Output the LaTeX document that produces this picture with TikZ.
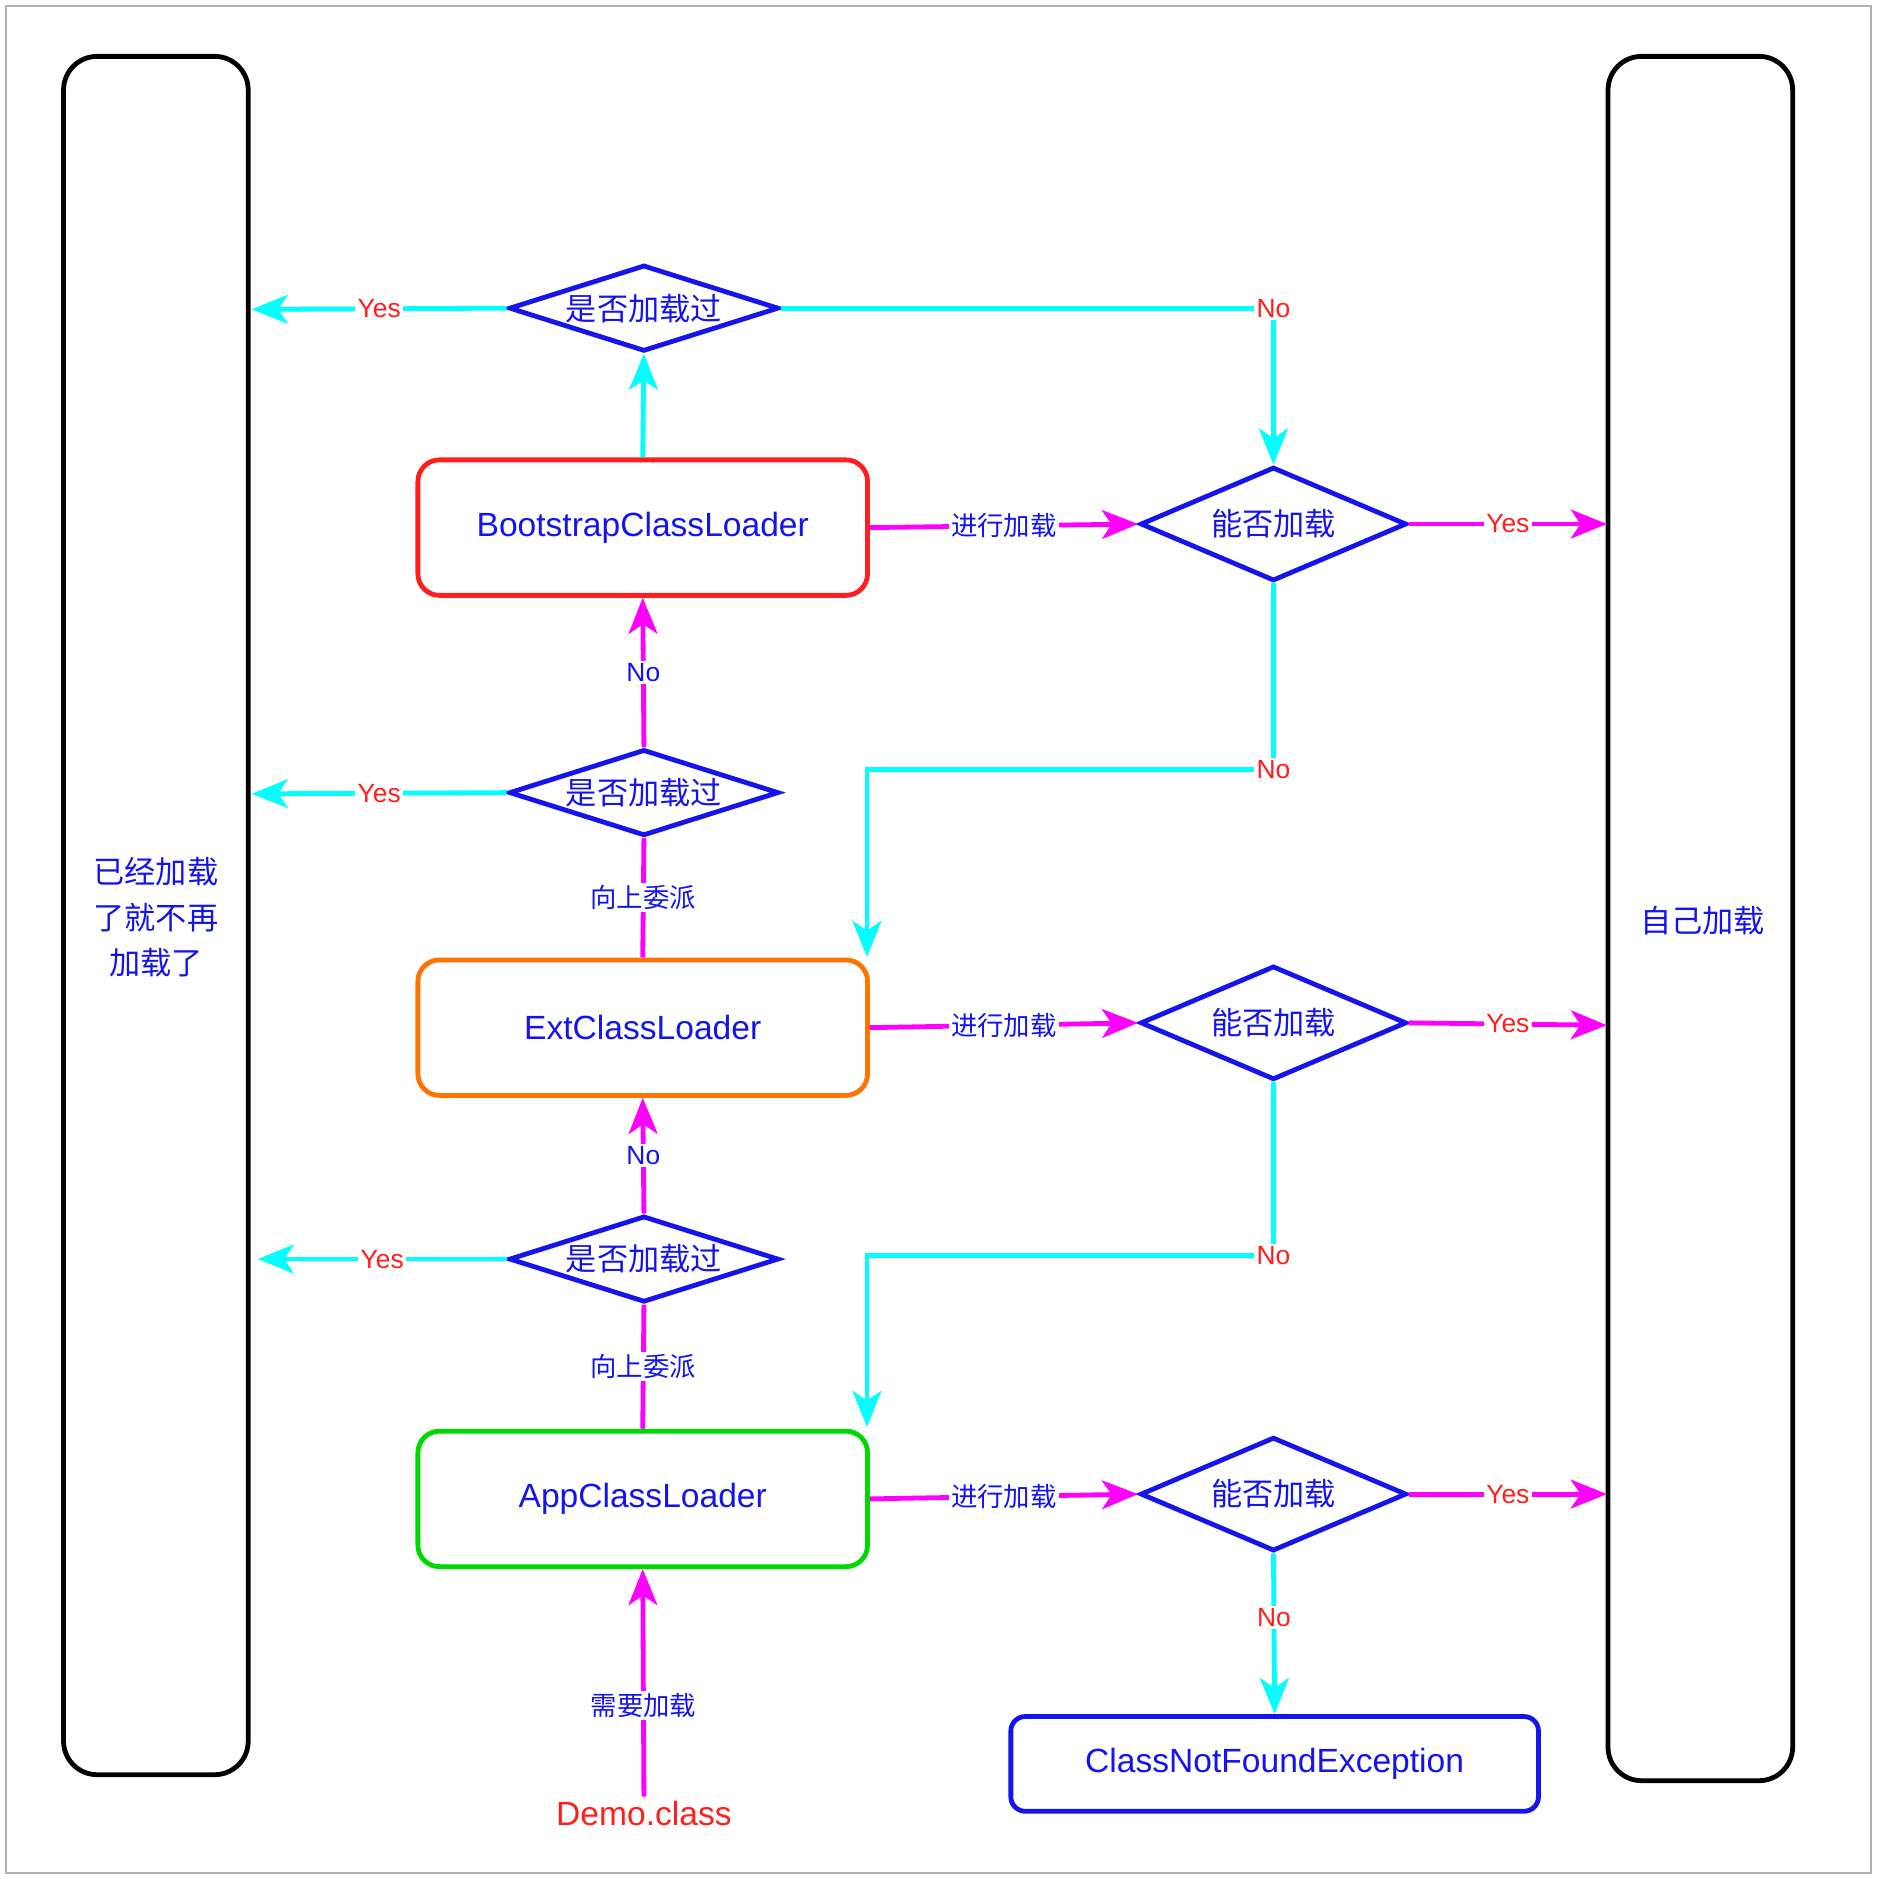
\documentclass[tikz,border=0pt]{standalone}
\usepackage{fontspec}
\setmainfont{Liberation Sans}
\newfontfamily\cjk{Noto Sans CJK SC}
\usetikzlibrary{shapes.geometric,arrows.meta}
\definecolor{cy}{RGB}{0,255,255}
\definecolor{mg}{RGB}{255,0,255}
\definecolor{bl}{RGB}{20,20,235}
\definecolor{rd}{RGB}{255,30,30}
\begin{document}
\begin{tikzpicture}[x=1pt,y=-1pt,
  ln/.style={line width=4pt},
  ca/.style={ln,cy,-{Stealth[length=30pt,width=24pt,inset=8pt]}},
  cl/.style={ln,cy},
  ma/.style={ln,mg,-{Stealth[length=30pt,width=24pt,inset=8pt]}},
  ml/.style={ln,mg},
  dia/.style={diamond,draw=bl,line width=4pt,minimum width=225pt,minimum height=72pt,aspect=3.1,inner sep=0pt,text=bl,font=\cjk\fontsize{26}{30}\selectfont},
  dib/.style={dia,minimum width=222pt,minimum height=95pt,aspect=2.3},
  box/.style={draw,rounded corners=18pt,line width=4pt,minimum width=375pt,minimum height=113pt,text=bl,font=\fontsize{28}{32}\selectfont},
  side/.style={draw=black,line width=4pt,rounded corners=28pt},
  lr/.style={fill=white,text=rd,font=\fontsize{22}{24}\selectfont,inner sep=2pt},
  lb/.style={fill=white,text=bl,font=\fontsize{22}{24}\selectfont,inner sep=2pt},
  lc/.style={fill=white,text=bl,font=\cjk\fontsize{22}{24}\selectfont,inner sep=2pt}]
\useasboundingbox (0,0) rectangle (1566,1567);
\draw[gray!60,line width=1.5pt] (5,5) rectangle (1560,1562);
\draw[side] (53,47) rectangle (207,1480);
\draw[side] (1341,47) rectangle (1495,1485);
\node[text=bl,font=\cjk\fontsize{26}{38}\selectfont,align=center] (lt) at (130,765) {已经加载\\了就不再\\加载了};
\node[text=bl,font=\cjk\fontsize{26}{30}\selectfont] (rt) at (1420,768) {自己加载};

\node[dia] (d1) at (537,257) {是否加载过};
\node[dia] (d2) at (537,661) {是否加载过};
\node[dia] (d3) at (537,1050) {是否加载过};
\node[box,draw=rd] (b1) at (536,440) {BootstrapClassLoader};
\node[box,draw=orange!90!red] (b2) at (536,857) {ExtClassLoader};
\node[box,draw=green!85!black] (b3) at (536,1250) {AppClassLoader};
\node[dib] (n1) at (1062,437) {能否加载};
\node[dib] (n2) at (1062,853) {能否加载};
\node[dib] (n3) at (1062,1246) {能否加载};
\node[draw=bl,line width=4pt,rounded corners=12pt,minimum width=440pt,minimum height=79pt,text=bl,font=\fontsize{28}{32}\selectfont] (cnf) at (1063,1471) {ClassNotFoundException};
\node[text=rd,font=\fontsize{28}{32}\selectfont] (demo) at (537,1512) {Demo.class};

\coordinate (y1) at (210,258);
\coordinate (y2) at (210,662);
\coordinate (y3) at (215,1050);
\coordinate (r1) at (1340,437);
\coordinate (r2) at (1340,855);
\coordinate (r3) at (1340,1246);
\coordinate (e2) at (723,798);
\coordinate (e3) at (723,1190);

% bootstrap level
\draw[ca] (b1.north) -- (d1.south);
\draw[ca] (d1.west) -- node[lr,pos=0.5]{Yes} (y1);
\draw[ca] (d1.east) -- (d1.east -| n1) node[lr]{No} -- (n1.north);
\draw[ma] (b1.east) -- node[lc]{进行加载} (n1.west);
\draw[ma] (n1.east) -- node[lr]{Yes} (r1);
\draw[ca] (n1.south) -- (1062,642) node[lr]{No} -- (723,642) -- (e2);
% ext level
\draw[ma] (d2.north) -- node[lb]{No} (b1.south);
\draw[ca] (d2.west) -- node[lr]{Yes} (y2);
\draw[ml] (b2.north) -- node[lc]{向上委派} (d2.south);
\draw[ma] (b2.east) -- node[lc]{进行加载} (n2.west);
\draw[ma] (n2.east) -- node[lr]{Yes} (r2);
\draw[ca] (n2.south) -- (1062,1047) node[lr]{No} -- (723,1047) -- (e3);
% app level
\draw[ma] (d3.north) -- node[lb]{No} (b2.south);
\draw[ca] (d3.west) -- node[lr]{Yes} (y3);
\draw[ml] (b3.north) -- node[lc]{向上委派} (d3.south);
\draw[ma] (b3.east) -- node[lc]{进行加载} (n3.west);
\draw[ma] (n3.east) -- node[lr]{Yes} (r3);
\draw[ca] (n3.south) -- node[lr,pos=0.4]{No} (cnf.north);
\draw[ma] (demo.north) -- node[lc,pos=0.4]{需要加载} (b3.south);
\end{tikzpicture}
\end{document}
